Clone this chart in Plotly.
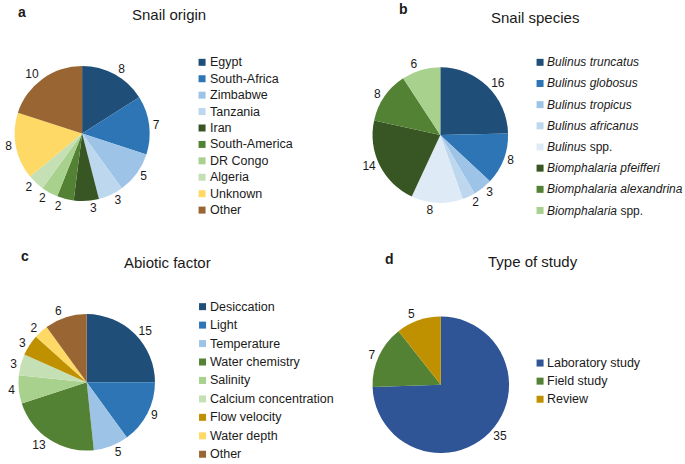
import plotly.graph_objects as go

W, H = 685, 464
FONT = "Liberation Sans, Arial, sans-serif"

# ---------------- data ----------------
origin_labels = ["Egypt", "South-Africa", "Zimbabwe", "Tanzania", "Iran",
                 "South-America", "DR Congo", "Algeria", "Unknown", "Other"]
origin_values = [8, 7, 5, 3, 3, 2, 2, 2, 8, 10]

species_labels = ["<i>Bulinus truncatus</i>", "<i>Bulinus globosus</i>",
                  "<i>Bulinus tropicus</i>", "<i>Bulinus africanus</i>",
                  "<i>Bulinus</i> spp.", "<i>Biomphalaria pfeifferi</i>",
                  "<i>Biomphalaria alexandrina</i>", "<i>Biomphalaria</i> spp."]
species_values = [16, 8, 3, 2, 8, 14, 8, 6]

abiotic_labels = ["Desiccation", "Light", "Temperature", "Water chemistry",
                  "Salinity", "Calcium concentration", "Flow velocity",
                  "Water depth", "Other"]
abiotic_values = [15, 9, 5, 13, 4, 3, 3, 2, 6]

study_labels = ["Laboratory study", "Field study", "Review"]
study_values = [35, 7, 5]

# ---------------- colours ----------------
origin_colors = ["#1F4E79", "#2E75B6", "#9DC3E6", "#BDD7EE", "#375623",
                 "#548235", "#A9D18E", "#C5E0B4", "#FFD966", "#996633"]
species_colors = ["#1F4E79", "#2E75B6", "#9DC3E6", "#BDD7EE", "#DEEBF7",
                  "#375623", "#548235", "#A9D18E"]
abiotic_colors = ["#1F4E79", "#2E75B6", "#9DC3E6", "#548235", "#A9D18E",
                  "#C5E0B4", "#BF9000", "#FFD966", "#996633"]
study_colors = ["#2F5597", "#548235", "#BF9000"]

# layout of each panel (pixels from the top-left corner)
panels = [
    (origin_labels, origin_values, origin_colors, (77.7, 135), 68.3,
     "Snail origin", (165, 15), "a", (17.5, 12), (198.5, 206), 63, 16.6, 12.5),
    (species_labels, species_values, species_colors, (438.5, 136.5), 68.5,
     "Snail species", (533.5, 18), "b", (401, 9), (539, 545), 63, 21.4, 12),
    (abiotic_labels, abiotic_values, abiotic_colors, (82.3, 386.5), 69,
     "Abiotic factor", (163.5, 265), "c", (20, 259), (199, 206), 310, 18.65, 12.5),
    (study_labels, study_values, study_colors, (439, 389), 69,
     "Type of study", (532, 264), "d", (387.5, 262), (539, 545), 367, 18.3, 12.5),
]


def px(x):
    return x / W


def py(y):
    return 1 - y / H


fig = go.Figure()
annotations = []
shapes = []

for (labels, values, colors, (cx, cy), r, title, (tx, ty), letter, (lx, ly),
     (sqx, textx), ly0, lstep, lfont) in panels:
    dom = dict(x=[px(cx - r), px(cx + r)], y=[py(cy + r), py(cy - r)])
    # slices
    fig.add_trace(go.Pie(
        labels=labels, values=values, sort=False, direction="clockwise",
        rotation=0,
        marker=dict(colors=colors, line=dict(width=0)),
        textinfo="none", domain=dom,
        showlegend=False, hoverinfo="label+value",
    ))
    # value labels: one transparent overlay per slice so that plotly does not
    # push neighbouring labels apart (and draw leader lines)
    n = len(values)
    for k in range(n):
        txt = [str(v) if i == k else "" for i, v in enumerate(values)]
        pos = ["outside" if i == k else "none" for i in range(n)]
        fig.add_trace(go.Pie(
            labels=labels, values=values, sort=False, direction="clockwise",
            rotation=0, text=txt, textinfo="text", textposition=pos,
            marker=dict(colors=["rgba(0,0,0,0)"] * n, line=dict(width=0)),
            outsidetextfont=dict(family=FONT, size=12, color="#1a1a1a"),
            domain=dom, showlegend=False, hoverinfo="skip",
        ))
    annotations.append(dict(
        x=px(tx), y=py(ty), xref="paper", yref="paper", text=title,
        showarrow=False, xanchor="center", yanchor="middle",
        font=dict(family=FONT, size=15, color="#1a1a1a")))
    annotations.append(dict(
        x=px(lx), y=py(ly), xref="paper", yref="paper", text="<b>%s</b>" % letter,
        showarrow=False, xanchor="center", yanchor="middle",
        font=dict(family=FONT, size=14, color="#1a1a1a")))
    for i, (lab, col) in enumerate(zip(labels, colors)):
        yy = ly0 + i * lstep
        shapes.append(dict(
            type="rect", xref="paper", yref="paper",
            xsizemode="pixel", ysizemode="pixel",
            xanchor=px(sqx), yanchor=py(yy),
            x0=-3.5, x1=3.5, y0=-3.5, y1=3.5,
            fillcolor=col, line=dict(width=0)))
        annotations.append(dict(
            x=px(textx), y=py(yy), xref="paper", yref="paper", text=lab,
            showarrow=False, xanchor="left", yanchor="middle", borderpad=0,
            font=dict(family=FONT, size=lfont, color="#1a1a1a")))

fig.update_layout(
    width=W, height=H, margin=dict(l=0, r=0, t=0, b=0),
    paper_bgcolor="white", plot_bgcolor="white",
    annotations=annotations, shapes=shapes, showlegend=False,
)

fig.write_html("out.html",
               config={"displayModeBar": False},
               post_script="document.body.style.margin='0';"
                           "document.body.style.overflow='hidden';")
